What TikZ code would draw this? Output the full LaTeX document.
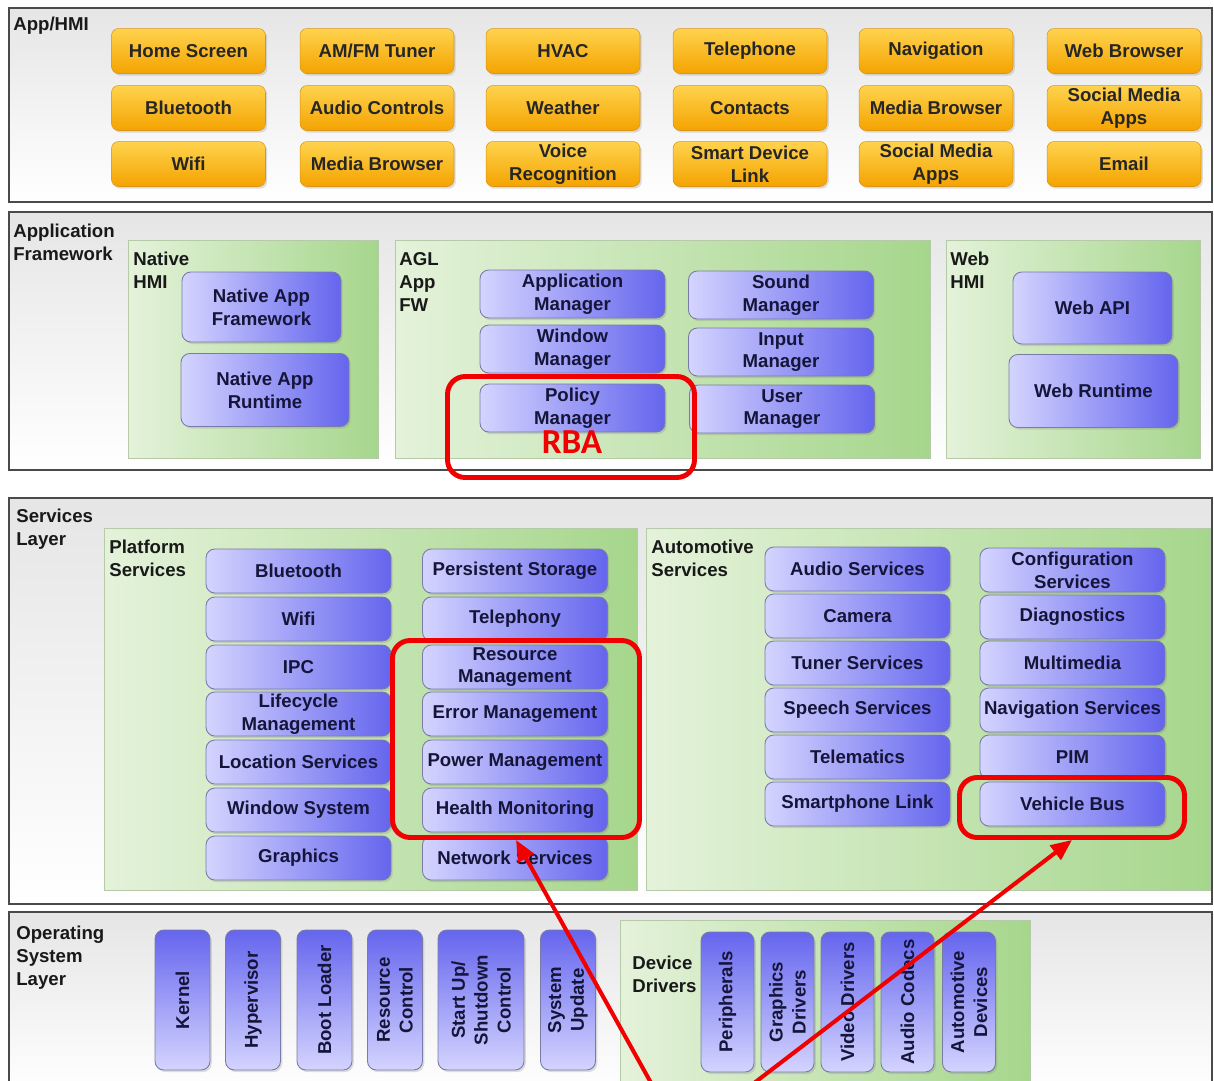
\documentclass[tikz,border=0pt]{standalone}
\usepackage{fontspec}
\setmainfont{Liberation Sans}
\newfontfamily\rbafont{Carlito}
\usetikzlibrary{arrows.meta,shadows}

\definecolor{layerline}{HTML}{4A4A4A}
\definecolor{orangeT}{HTML}{FFD34E}
\definecolor{orangeB}{HTML}{F4A300}
\definecolor{orangeline}{HTML}{D9951A}
\definecolor{blueL}{HTML}{D4D4FF}
\definecolor{blueR}{HTML}{6565EE}
\definecolor{blueline}{HTML}{7A7AA8}
\definecolor{navytext}{HTML}{15153A}
\definecolor{panelL}{HTML}{E4F2DA}
\definecolor{panelR}{HTML}{A6D68C}
\definecolor{panelline}{HTML}{B5CBA8}
\definecolor{markred}{HTML}{F00000}

\begin{document}
\begin{tikzpicture}[
    x=0.02cm, y=-0.02cm,                % one unit = one pixel of the sketch
    every node/.style={font=\bfseries\fontsize{10.6}{13}\selectfont},
    layer/.style={draw=layerline, line width=1.2pt, top color=black!10, bottom color=white},
    panel/.style={draw=panelline, line width=0.5pt, left color=panelL, right color=panelR},
    tag/.style={anchor=north west, align=left, inner sep=0pt, text=black!90},
    appbox/.style={rounded corners=4pt, top color=orangeT, bottom color=orangeB,
      draw=orangeline, line width=0.3pt, align=center, inner sep=1pt,
      minimum width=3.08cm, minimum height=0.9cm, text=black!85,
      drop shadow={opacity=0.25, shadow xshift=1pt, shadow yshift=-1.2pt}},
    bluebox/.style={rounded corners=5pt, left color=blueL, right color=blueR,
      draw=blueline, line width=0.5pt, align=center, inner sep=1pt, text=navytext,
      drop shadow={opacity=0.25, shadow xshift=1pt, shadow yshift=-1.2pt}},
    fwbox/.style={bluebox, minimum width=3.7cm, minimum height=0.96cm},
    svcbox/.style={bluebox, minimum width=3.7cm, minimum height=0.88cm},
    osbox/.style={bluebox, top color=blueR, bottom color=blueL, rotate=90,
      minimum width=2.8cm, minimum height=1.1cm},
    redframe/.style={draw=markred, line width=2.8pt, rounded corners=10pt},
    redarrow/.style={draw=markred, line width=2.3pt, -{Triangle[length=12pt,width=10pt]}},
  ]
  \clip (0,0) rectangle (1214,1080);

  % ---------------- App/HMI layer
  \path[layer] (9,8) rectangle (1212,202);
  \node[tag] (lhmi) at (13,17) {App/HMI};

  \node[appbox] (home)   at (188.5,51)  {Home Screen};
  \node[appbox] (tuner)  at (377,51)    {AM/FM Tuner};
  \node[appbox] (hvac)   at (563,51)    {HVAC};
  \node[appbox] (phone)  at (750,51)    {Telephone};
  \node[appbox] (navi)   at (936,51)    {Navigation};
  \node[appbox] (webbr)  at (1124,51)   {Web Browser};

  \node[appbox] (bt)     at (188.5,108) {Bluetooth};
  \node[appbox] (audio)  at (377,108)   {Audio Controls};
  \node[appbox] (wthr)   at (563,108)   {Weather};
  \node[appbox] (cont)   at (750,108)   {Contacts};
  \node[appbox] (mediaA) at (936,108)   {Media Browser};
  \node[appbox] (socA)   at (1124,108)  {Social Media\\Apps};

  \node[appbox] (wifi)   at (188.5,164) {Wifi};
  \node[appbox] (mediaB) at (377,164)   {Media Browser};
  \node[appbox] (voice)  at (563,164)   {Voice\\Recognition};
  \node[appbox] (sdl)    at (750,164)   {Smart Device\\Link};
  \node[appbox] (socB)   at (936,164)   {Social Media\\Apps};
  \node[appbox] (mail)   at (1124,164)  {Email};

  % ---------------- Application Framework layer
  \path[layer] (9,212) rectangle (1212,470);
  \node[tag] (lfw) at (13,224) {Application\\Framework};

  \path[panel] (128,240) rectangle (378,458);
  \node[tag] (lnat) at (133,252) {Native\\HMI};
  \node[bluebox, minimum width=3.18cm, minimum height=1.4cm]  (natfw)  at (261.5,307) {Native App\\Framework};
  \node[bluebox, minimum width=3.36cm, minimum height=1.46cm] (natrt)  at (265,390)   {Native App\\Runtime};

  \path[panel] (395,240) rectangle (930,458);
  \node[tag] (lagl) at (399,252) {AGL\\App\\FW};
  \node[fwbox] (appmgr) at (572.5,294) {Application\\Manager};
  \node[fwbox] (winmgr) at (572.5,349) {Window\\Manager};
  \node[fwbox] (polmgr) at (572.5,408) {Policy\\Manager};
  \node[fwbox] (sndmgr) at (781,295)   {Sound\\Manager};
  \node[fwbox] (inpmgr) at (781,352)   {Input\\Manager};
  \node[fwbox] (usrmgr) at (782,409)   {User\\Manager};

  \path[panel] (946,240) rectangle (1200,458);
  \node[tag] (lweb) at (950,252) {Web\\HMI};
  \node[bluebox, minimum width=3.18cm, minimum height=1.44cm] (webapi) at (1092.5,308) {Web API};
  \node[bluebox, minimum width=3.38cm, minimum height=1.46cm] (webrt)  at (1093.5,391) {Web Runtime};

  % ---------------- Services layer
  \path[layer] (9,498) rectangle (1212,904);
  \node[tag] (lsvc) at (16,509) {Services\\Layer};

  \path[panel] (104,528) rectangle (637,890);
  \node[tag] (lplat) at (109,540) {Platform\\Services};
  \node[svcbox] (pbt)   at (298.5,571) {Bluetooth};
  \node[svcbox] (pwifi) at (298.5,619) {Wifi};
  \node[svcbox] (pipc)  at (298.5,667) {IPC};
  \node[svcbox] (plife) at (298.5,714) {Lifecycle\\Management};
  \node[svcbox] (ploc)  at (298.5,762) {Location Services};
  \node[svcbox] (pwin)  at (298.5,810) {Window System};
  \node[svcbox] (pgfx)  at (298.5,858) {Graphics};
  \node[svcbox] (pstor) at (515,571)   {Persistent Storage};
  \node[svcbox] (ptel)  at (515,619)   {Telephony};
  \node[svcbox] (pres)  at (515,667)   {Resource\\Management};
  \node[svcbox] (perr)  at (515,714)   {Error Management};
  \node[svcbox] (ppow)  at (515,762)   {Power Management};
  \node[svcbox] (phlth) at (515,810)   {Health Monitoring};
  \node[svcbox] (pnet)  at (515,858)   {Network Services};

  \path[panel] (646,528) rectangle (1210,890);
  \node[tag] (lauto) at (651,540) {Automotive\\Services};
  \node[svcbox] (aaud)  at (857.5,569)  {Audio Services};
  \node[svcbox] (acam)  at (857.5,616)  {Camera};
  \node[svcbox] (atun)  at (857.5,663)  {Tuner Services};
  \node[svcbox] (aspch) at (857.5,710)  {Speech Services};
  \node[svcbox] (atele) at (857.5,757)  {Telematics};
  \node[svcbox] (asmart) at (857.5,804) {Smartphone Link};
  \node[svcbox] (acfg)  at (1072.5,570) {Configuration\\Services};
  \node[svcbox] (adiag) at (1072.5,617) {Diagnostics};
  \node[svcbox] (amm)   at (1072.5,663) {Multimedia};
  \node[svcbox] (anav)  at (1072.5,710) {Navigation Services};
  \node[svcbox] (apim)  at (1072.5,757) {PIM};
  \node[svcbox] (avbus) at (1072.5,804) {Vehicle Bus};

  % ---------------- Operating System layer
  \path[layer] (9,912) rectangle (1212,1095);
  \node[tag] (los) at (16,926) {Operating\\System\\Layer};
  \node[osbox] (kern)  at (182.5,1000) {Kernel};
  \node[osbox] (hyp)   at (253,1000)   {Hypervisor};
  \node[osbox] (boot)  at (324.5,1000) {Boot Loader};
  \node[osbox] (rctl)  at (395,1000)   {Resource\\Control};
  \node[osbox, minimum height=1.72cm] (start) at (481,1000) {Start Up/\\Shutdown\\Control};
  \node[osbox] (sysup) at (568,1000)   {System\\Update};

  \path[panel] (620,920) rectangle (1030,1095);
  \node[tag] (ldev) at (632,956) {Device\\Drivers};
  \node[osbox, minimum height=1.06cm] (periph) at (727.5,1002) {Peripherals};
  \node[osbox, minimum height=1.06cm] (gfxdrv) at (787.5,1002) {Graphics\\Drivers};
  \node[osbox, minimum height=1.06cm] (viddrv) at (847.5,1002) {Video Drivers};
  \node[osbox, minimum height=1.06cm] (codec)  at (907.5,1002) {Audio Codecs};
  \node[osbox, minimum height=1.06cm] (autodev) at (969,1002)  {Automotive\\Devices};

  % ---------------- red marks
  \node[redframe, minimum width=4.94cm, minimum height=2.02cm] (rbaframe) at (571,427) {};
  \node[text=markred, font=\rbafont\bfseries\fontsize{20}{22}\selectfont] (rba) at (572,442) {RBA};
  \node[redframe, minimum width=4.94cm, minimum height=3.94cm] (mgmt) at (516,739) {};
  \node[redframe, minimum width=4.5cm, minimum height=1.2cm] (vbus) at (1072,807.5) {};

  \coordinate (src1) at (655,1090);
  \coordinate (src2) at (745,1090);
  \draw[redarrow] (src1) -- (mgmt.south);
  \draw[redarrow] (src2) -- (vbus.south);
\end{tikzpicture}
\end{document}
